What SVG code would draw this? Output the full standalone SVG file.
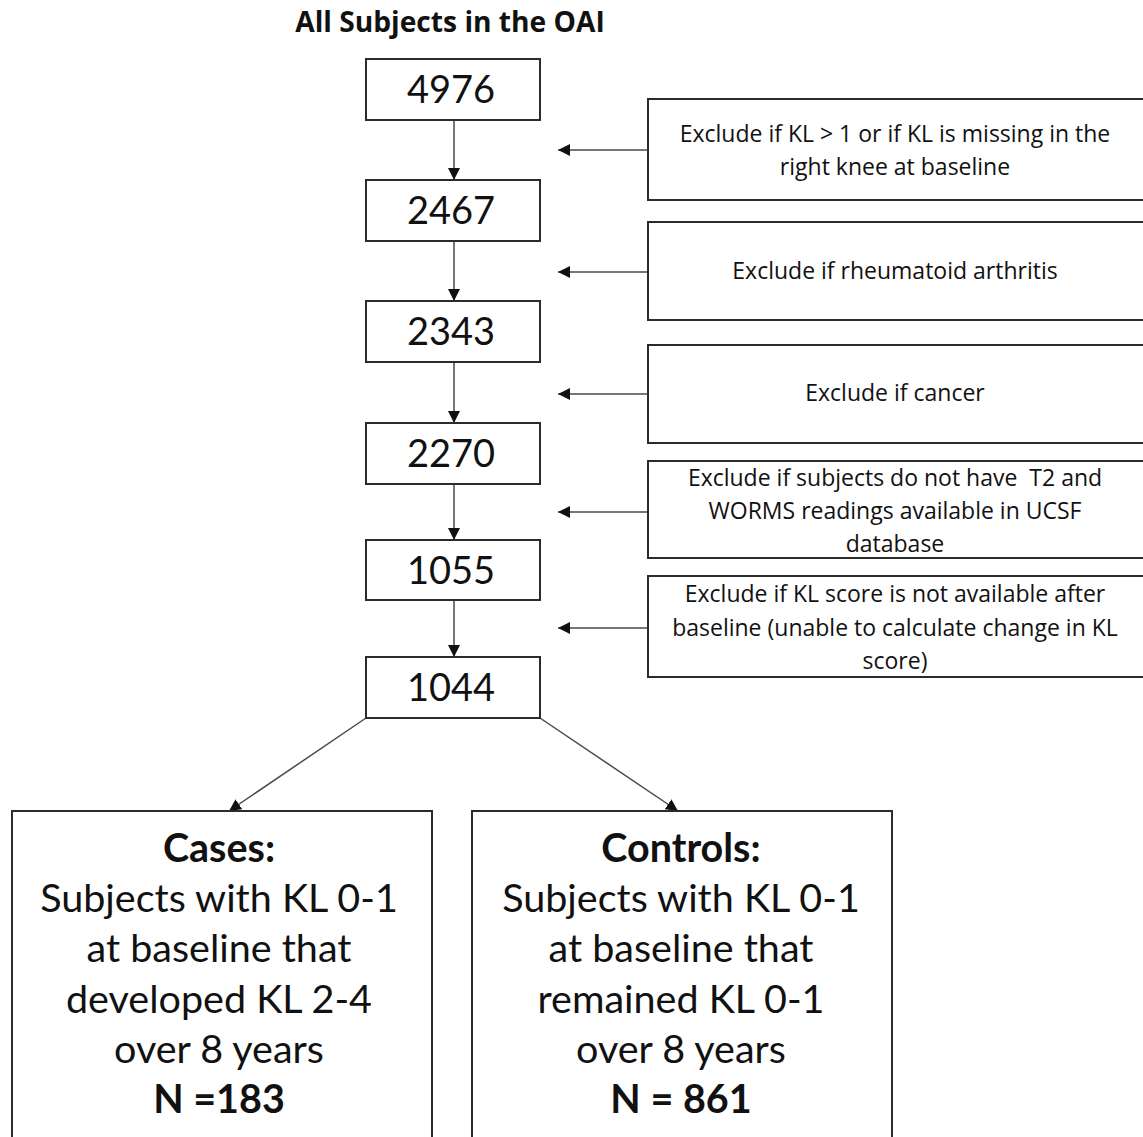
<svg xmlns="http://www.w3.org/2000/svg" width="1143" height="1137" viewBox="0 0 1143 1137">
<defs>
<style>
.box{fill:#fff;stroke:#2b2b2b;stroke-width:2}
.ln{stroke:#4a4a4a;stroke-width:1.5;fill:none}
.num{font-family:Lato,"Open Sans",sans-serif;font-size:38px;fill:#111;text-anchor:middle}
.sm{font-family:"Open Sans",Lato,sans-serif;font-size:23px;fill:#111;text-anchor:middle;white-space:pre}
.big{font-family:Lato,"Open Sans",sans-serif;font-size:39.5px;fill:#111;text-anchor:middle}
.ttl{font-family:"Open Sans",Lato,sans-serif;font-size:28.2px;font-weight:bold;fill:#111;text-anchor:middle}
.b{font-weight:bold}
</style>
<marker id="ah" viewBox="0 0 10 10" refX="10" refY="5" markerWidth="12" markerHeight="12" markerUnits="userSpaceOnUse" orient="auto">
<path d="M0,0 L10,5 L0,10 z" fill="#111"/>
</marker>
</defs>
<rect width="1143" height="1137" fill="#fff"/>
<text x="450" y="32" class="ttl">All Subjects in the OAI</text>
<g id="connectors">
<line class="ln" x1="454" y1="120" x2="454" y2="180" marker-end="url(#ah)"/>
<line class="ln" x1="454" y1="241" x2="454" y2="301" marker-end="url(#ah)"/>
<line class="ln" x1="454" y1="362" x2="454" y2="423" marker-end="url(#ah)"/>
<line class="ln" x1="454" y1="484" x2="454" y2="540" marker-end="url(#ah)"/>
<line class="ln" x1="454" y1="600" x2="454" y2="657" marker-end="url(#ah)"/>
<line class="ln" x1="648" y1="150" x2="558" y2="150" marker-end="url(#ah)"/>
<line class="ln" x1="648" y1="272" x2="558" y2="272" marker-end="url(#ah)"/>
<line class="ln" x1="648" y1="394" x2="558" y2="394" marker-end="url(#ah)"/>
<line class="ln" x1="648" y1="512" x2="558" y2="512" marker-end="url(#ah)"/>
<line class="ln" x1="648" y1="628" x2="558" y2="628" marker-end="url(#ah)"/>
<line class="ln" x1="366" y1="718" x2="229" y2="811" marker-end="url(#ah)"/>
<line class="ln" x1="540" y1="718" x2="678" y2="811" marker-end="url(#ah)"/>
</g>
<g id="n4976"><rect class="box" x="366" y="59" width="174" height="61"/><text class="num" x="451" y="103">4976</text></g>
<g id="n2467"><rect class="box" x="366" y="180" width="174" height="61"/><text class="num" x="451" y="224">2467</text></g>
<g id="n2343"><rect class="box" x="366" y="301" width="174" height="61"/><text class="num" x="451" y="345">2343</text></g>
<g id="n2270"><rect class="box" x="366" y="423" width="174" height="61"/><text class="num" x="451" y="467">2270</text></g>
<g id="n1055"><rect class="box" x="366" y="540" width="174" height="60"/><text class="num" x="451" y="584">1055</text></g>
<g id="n1044"><rect class="box" x="366" y="657" width="174" height="61"/><text class="num" x="451" y="701">1044</text></g>
<g id="ex1"><rect class="box" x="648" y="99" width="500" height="101"/><text class="sm" x="895" y="142">Exclude if KL &gt; 1 or if KL is missing in the</text><text class="sm" x="895" y="175">right knee at baseline</text></g>
<g id="ex2"><rect class="box" x="648" y="222" width="500" height="98"/><text class="sm" x="895" y="279">Exclude if rheumatoid arthritis</text></g>
<g id="ex3"><rect class="box" x="648" y="345" width="500" height="98"/><text class="sm" x="895" y="401">Exclude if cancer</text></g>
<g id="ex4"><rect class="box" x="648" y="461" width="500" height="97"/><text class="sm" x="895" y="486">Exclude if subjects do not have  T2 and</text><text class="sm" x="895" y="519">WORMS readings available in UCSF</text><text class="sm" x="895" y="552">database</text></g>
<g id="ex5"><rect class="box" x="648" y="576" width="500" height="101"/><text class="sm" x="895" y="602">Exclude if KL score is not available after</text><text class="sm" x="895" y="636">baseline (unable to calculate change in KL</text><text class="sm" x="895" y="669">score)</text></g>
<g id="cases"><rect class="box" x="12" y="811" width="420" height="340"/>
<text class="big b" x="219" y="862">Cases:</text>
<text class="big" x="219" y="912">Subjects with KL 0-1</text>
<text class="big" x="219" y="962">at baseline that</text>
<text class="big" x="219" y="1013">developed KL 2-4</text>
<text class="big" x="219" y="1063">over 8 years</text>
<text class="big b" x="219" y="1113">N =183</text></g>
<g id="controls"><rect class="box" x="472" y="811" width="420" height="340"/>
<text class="big b" x="681" y="862">Controls:</text>
<text class="big" x="681" y="912">Subjects with KL 0-1</text>
<text class="big" x="681" y="962">at baseline that</text>
<text class="big" x="681" y="1013">remained KL 0-1</text>
<text class="big" x="681" y="1063">over 8 years</text>
<text class="big b" x="681" y="1113">N = 861</text></g>
</svg>
